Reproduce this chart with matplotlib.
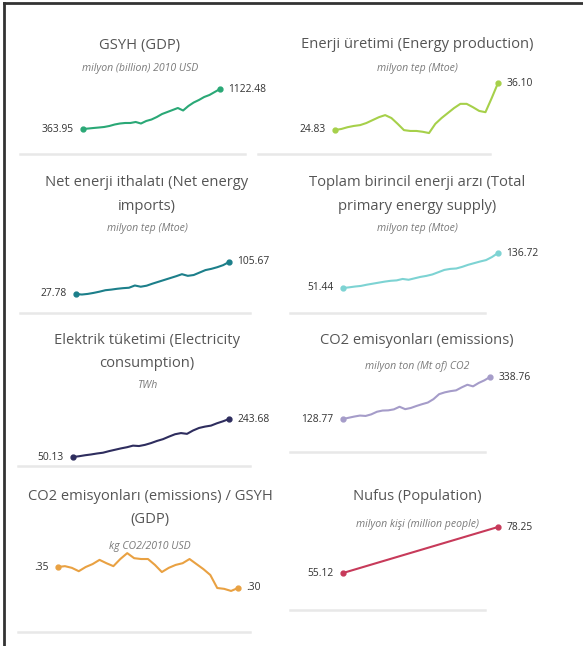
import matplotlib.pyplot as plt
import numpy as np

plt.rcParams['font.family'] = ['Open Sans', 'DejaVu Sans']

W, H = 583, 646

years = np.arange(1990, 2017)

gdp = [363.95, 373, 383, 392, 402, 421, 449, 468, 478, 478, 497, 468, 516, 544,
       591, 648, 686, 724, 762, 715, 800, 866, 914, 971, 1009, 1066, 1122.48]
energy_prod = [24.83, 25.07, 25.5, 25.8, 26.0, 26.5, 27.2, 27.9, 28.4, 27.7, 26.3,
               24.8, 24.6, 24.6, 24.4, 24.1, 26.3, 27.7, 28.9, 30.1, 31.1, 31.1,
               30.3, 29.4, 29.1, 32.5, 36.10]
net_imports = [27.78, 26.5, 28.0, 30.5, 33.5, 37.0, 38.5, 40.5, 42.0, 43.0, 48.5,
               45.5, 48.0, 53.0, 57.5, 62.0, 66.5, 71.0, 76.0, 72.0, 74.0, 80.0,
               86.0, 89.0, 93.0, 98.0, 105.67]
tpes = [51.44, 53, 55, 56.5, 59.5, 62, 64.5, 67, 69, 70, 73.5, 71.5, 75, 78.5, 81,
        84.5, 90, 95.5, 98, 99, 103, 108, 112, 116, 119.5, 127, 136.72]
electricity = [50.13, 54, 59, 63, 68, 72, 80, 87, 94, 100, 108, 106, 112, 121, 132,
               141, 154, 166, 172, 168, 185, 198, 205, 210, 222, 232, 243.68]
co2 = [128.77, 135, 141, 146, 144, 152, 165, 171, 172, 177, 190, 178, 184, 194, 203,
       211, 228, 253, 262, 268, 272, 287, 300, 292, 309, 322, 338.76]
co2_gdp = [0.350, 0.352, 0.348, 0.340, 0.350, 0.357, 0.367, 0.359, 0.352, 0.369,
           0.383, 0.371, 0.369, 0.369, 0.355, 0.338, 0.348, 0.355, 0.359, 0.369,
           0.357, 0.345, 0.331, 0.300, 0.298, 0.293, 0.300]
pop_years = [1990, 2016]
population = [55.12, 78.25]

titles = [
    ["GSYH (GDP)"],
    ["Enerji üretimi (Energy production)"],
    ["Net enerji ithalatı (Net energy", "imports)"],
    ["Toplam birincil enerji arzı (Total", "primary energy supply)"],
    ["Elektrik tüketimi (Electricity", "consumption)"],
    ["CO2 emisyonları (emissions)"],
    ["CO2 emisyonları (emissions) / GSYH", "(GDP)"],
    ["Nufus (Population)"],
]
subtitles = [
    "milyon (billion) 2010 USD",
    "milyon tep (Mtoe)",
    "milyon tep (Mtoe)",
    "milyon tep (Mtoe)",
    "TWh",
    "milyon ton (Mt of) CO2",
    "kg CO2/2010 USD",
    "milyon kişi (million people)",
]
series = [(years, gdp), (years, energy_prod), (years, net_imports), (years, tpes),
          (years, electricity), (years, co2), (years, co2_gdp), (pop_years, population)]
colors = ["#2aa876", "#a6d04a", "#1c7f8a", "#7dd3d3",
          "#2e2d5e", "#a59cc9", "#e9a142", "#c73a5a"]

# layout in pixels: title center x, title line ys, subtitle y,
# line start (x,y), line end (x,y), separator (x0, x1, y)
layout = [
    (140, [45], 69, (83, 129), (220, 89), (20, 245, 154)),
    (417, [45], 69, (335, 130), (498, 83), (258, 490, 154)),
    (147, [183, 206], 228, (76, 294), (229, 262), (20, 250, 313)),
    (417, [183, 206], 228, (343, 288), (498, 253), (290, 485, 313)),
    (147, [341, 364], 386, (73, 457), (229, 419), (18, 250, 466)),
    (417, [341], 366, (343, 419), (490, 377), (290, 485, 452)),
    (150, [497, 520], 546, (58, 567), (238, 588), (18, 250, 632)),
    (417, [497], 524, (343, 573), (498, 527), (290, 485, 610)),
]


def fx(x):
    return x / W


def fy(y):
    return 1 - y / H


def fmt(v):
    if v < 1:
        return ("%.2f" % v)[1:]
    return "%.2f" % v


fig = plt.figure(figsize=(W / 100, H / 100), dpi=100)
fig.patch.set_facecolor("white")

for i in range(8):
    cx, tys, sy, p0, p1, sep = layout[i]
    xs, vals = series[i]
    for line, ty in zip(titles[i], tys):
        fig.text(fx(cx), fy(ty), line, ha="center", va="center",
                 fontsize=10.6, color="#555555")
    fig.text(fx(cx), fy(sy), subtitles[i], ha="center", va="center",
             fontsize=7.6, style="italic", color="#7a7a7a")

    top = min(p0[1], p1[1])
    bot = max(p0[1], p1[1])
    ax = fig.add_axes([fx(p0[0]), fy(bot), (p1[0] - p0[0]) / W, (bot - top) / H])
    ax.axis("off")
    ax.set_xlim(xs[0], xs[-1])
    v0, v1 = vals[0], vals[-1]
    ax.set_ylim(min(v0, v1), max(v0, v1))
    ax.plot(xs, vals, color=colors[i], lw=1.5, clip_on=False)
    ax.plot([xs[0], xs[-1]], [v0, v1], "o", color=colors[i], ms=3.5, clip_on=False)
    ax.annotate(fmt(v0), (xs[0], v0), xytext=(-7, 0), textcoords="offset points",
                ha="right", va="center", fontsize=7.4, color="#333333")
    ax.annotate(fmt(v1), (xs[-1], v1), xytext=(6, 0), textcoords="offset points",
                ha="left", va="center", fontsize=7.4, color="#333333")

    fig.add_artist(plt.Line2D([fx(sep[0]), fx(sep[1])], [fy(sep[2]), fy(sep[2])],
                              color="#e8e8e8", lw=1.8))

# frame edges
fig.add_artist(plt.Line2D([fx(4), 1], [fy(3), fy(3)], color="#333333", lw=2))
fig.add_artist(plt.Line2D([fx(4), fx(4)], [0, fy(3)], color="#333333", lw=2))

fig.savefig("out.png", dpi=100)
